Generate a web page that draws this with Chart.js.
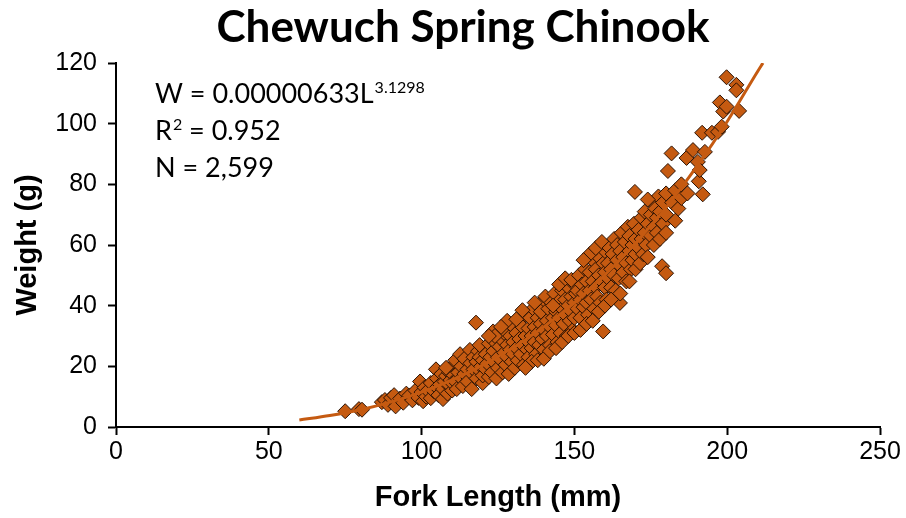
<!DOCTYPE html>
<html>
<head>
<meta charset="utf-8">
<title>Chewuch Spring Chinook</title>
<script src="https://cdn.jsdelivr.net/npm/chart.js@4.4.0/dist/chart.umd.min.js"></script>
<style>
  html, body { margin: 0; padding: 0; background: #fff; }
  #wrap { width: 906px; height: 518px; position: relative; }
</style>
</head>
<body>
<div id="wrap"><canvas id="chart-scatter"></canvas></div>
<script>
// axis ticks
const lengthTicks = [0, 50, 100, 150, 200, 250];
const weightTicks = [0, 20, 40, 60, 80, 100, 120];

// fork length (mm), weight (g), grouped by length
const fishSample = [
  [75, 5.2], [79.5, 5.9], [80.5, 5.7],
  [87, 8.2], [88, 8.9], [89, 7.3], [90, 9.6], [91, 10.5], [91.5, 6.8], [93, 9.4], [94, 8], [95, 11], [96, 10.4],
  [97, 8.8], [98, 12], [99, 9.6], [99.5, 15], [100, 11.5], [100.5, 8.5],
  [101, 13], [101.5, 10], [102, 12], [103, 14.5], [103, 9.5], [104, 11.8], [104.7, 19], [105, 16], [105, 13],
  [105.5, 10.5], [106, 14], [106.5, 17.5], [107, 9.2], [107, 12.5], [107.5, 15], [108, 16.8], [108.5, 11],
  [109, 13.8], [109, 18], [109.5, 15.5], [110, 12], [110, 20], [110.5, 17], [110, 14.5], [108, 19.5],
  [111, 15], [111, 22], [111.5, 12.5], [112, 18], [112.6, 24], [113, 16], [113, 20], [113.5, 13.5], [114, 17.5],
  [114, 22.5], [115, 19], [115, 15], [115.8, 25.4], [116, 21], [116.4, 12.5], [116.5, 17.5], [117, 23], [117, 19],
  [117.8, 34.4], [118, 16], [118, 21.5], [118.5, 25], [119, 18.5], [119, 23], [119.5, 20], [120, 14.5], [120, 17],
  [120, 22], [120, 26], [119, 27],
  [121, 19], [121, 24], [121.5, 21], [122, 16.5], [122, 27.5], [122.5, 23], [123, 18], [123.4, 31.5], [123.5, 25],
  [124, 21], [124, 28], [124.5, 16], [125, 23], [125, 19.5], [125.5, 26.5], [126, 29], [126, 22], [126.5, 18],
  [127, 24.5], [127, 31], [127.5, 20.5], [128, 27], [128, 23], [128.5, 17.5], [129, 25.5], [129, 30], [129.5, 21.5],
  [130, 28], [130, 24], [130, 33], [130.5, 19.5], [128, 35], [126, 33], [124, 30], [122, 30],
  [131, 26], [131, 31], [131.5, 22], [132, 29], [132, 35], [132.5, 24], [133, 27], [133, 33], [133.5, 20.5],
  [134, 30], [134, 37], [134.5, 25.5], [135, 28], [135, 32.5], [135, 23], [135.5, 36], [136, 30], [136, 26],
  [136.5, 39], [137, 33], [137, 28], [137.5, 24], [138, 31], [138, 36], [138.5, 27], [139, 34], [139, 41],
  [139.5, 29], [140, 32], [140, 37], [140, 25.5], [140.5, 43], [136, 21.5], [138, 22], [140, 22.5], [133, 38.5],
  [137, 41], [139, 38], [131, 35.5], [134, 19.5],
  [141, 30], [141, 35], [141.5, 39], [142, 27], [142, 33], [142.5, 41], [143, 36], [143, 30.5], [143.5, 44],
  [144, 33.5], [144, 38], [144.5, 28], [145, 36], [145, 41.5], [145.5, 31], [146, 39], [146, 45], [146.5, 34],
  [147, 37], [147, 42], [147.5, 30], [148, 40], [148, 46], [148.5, 35], [149, 43], [149, 38], [149.5, 32],
  [150, 41], [150, 47], [150, 36], [150.5, 44], [142, 25], [144, 26], [146, 28], [148, 30], [150, 31],
  [145, 47], [143, 40], [147, 49], [149, 48.5],
  [151, 39], [151, 45], [151.5, 50], [152, 42], [152, 36], [152.5, 47], [153, 44], [153, 39.5], [153.5, 52],
  [154, 41], [154, 48], [154.5, 37], [155, 45], [155, 51], [155.5, 42], [156, 48], [156, 55], [156.5, 39],
  [157, 46], [157, 52], [157.5, 43], [158, 50], [158, 56], [158.5, 41], [159, 48], [159.4, 31.5], [159.5, 54],
  [160, 46], [160, 51], [160, 58], [160.5, 42], [152, 32], [154, 34], [156, 35], [158, 38], [160, 40],
  [155, 57], [157, 59], [153, 55], [159, 61],
  [161, 49], [161, 54], [161.5, 59], [162, 46], [162, 52], [162.5, 57], [163, 50], [163, 62], [163.5, 45],
  [164, 55], [164, 60], [164.5, 49], [164.9, 40.9], [165, 53], [165, 58], [165.5, 64], [166, 51], [166, 56],
  [166.5, 61], [167, 48], [167, 54], [167.5, 66], [168, 58], [168, 63], [168.5, 52], [169, 60], [169, 55],
  [169.5, 67], [169.8, 77.5], [170, 57], [170, 62], [170, 52], [162, 42], [165, 44], [168, 48],
  [171, 59], [171, 65], [171.5, 54], [172, 62], [172, 69], [172.5, 57], [173, 64], [173, 71], [173.5, 60],
  [174, 67], [174, 56], [175, 63], [175, 70], [175.5, 74], [176, 60], [176, 66], [176.5, 72], [177, 64],
  [177, 69], [177.5, 76], [178, 62], [178, 71], [178.7, 53], [179, 67], [179, 74], [180, 50.7], [180, 70],
  [180, 77], [180, 64], [174, 75],
  [180.6, 84.4], [181.8, 90.2], [182, 74], [183, 68], [183, 78], [184, 72], [185, 75.5], [185, 80],
  [186.7, 88.7], [187, 77], [188.8, 91.3], [190.4, 87.4], [190.7, 81], [191, 84.7], [191.8, 97], [192, 76.7],
  [192.7, 90.7], [195, 97], [197, 97.3], [197.6, 107], [198.2, 99], [198.7, 104], [199.8, 105.6],
  [199.8, 115.3], [203, 112.8], [203, 111], [203.9, 104.2]
];

// power trendline
const trendLength = [60, 70, 80, 90, 100, 110, 120, 130, 140, 150, 160, 170, 180, 190, 200, 210, 211.7];
const trendWeight = [2.3, 3.8, 5.7, 8.3, 11.5, 15.5, 20.4, 26.2, 33, 40.9, 50.1, 60.6, 72.4, 85.8, 100.7, 117.3, 120];

const orange = '#c55a11';

// title and equation box (drawn by hand so the title can sit off-centre like the original)
const fitLabel = {
  id: 'fitLabel',
  afterDraw(chart) {
    const ctx = chart.ctx;
    ctx.save();
    ctx.fillStyle = '#000';
    ctx.textBaseline = 'alphabetic';

    ctx.textAlign = 'center';
    ctx.font = 'bold 44px Lato';
    ctx.fillText('Chewuch Spring Chinook', 463, 42);

    ctx.textAlign = 'left';
    const x = 155;
    ctx.font = '27px Lato';
    ctx.fillText('W = 0.00000633L', x, 103);
    let w = ctx.measureText('W = 0.00000633L').width;
    ctx.font = '16px Lato';
    ctx.fillText('3.1298', x + w + 1, 93);

    ctx.font = '27px Lato';
    ctx.fillText('R', x, 140);
    w = ctx.measureText('R').width;
    ctx.font = '16px Lato';
    ctx.fillText('2', x + w + 1, 130);
    const w2 = ctx.measureText('2').width;
    ctx.font = '27px Lato';
    ctx.fillText(' = 0.952', x + w + w2 + 1, 140);

    ctx.fillText('N = 2,599', x, 177);
    ctx.restore();
  }
};

var ctx = document.getElementById('chart-scatter').getContext('2d');

new Chart(ctx, {
  data: {
    datasets: [{
      type: 'line',
      label: 'Trend',
      data: trendLength.map((l, i) => ({ x: l, y: trendWeight[i] })),
      borderColor: orange,
      borderWidth: 3,
      pointRadius: 0,
      cubicInterpolationMode: 'monotone',
      fill: false,
      order: 0
    }, {
      type: 'scatter',
      label: 'Fish',
      data: fishSample.map(p => ({ x: p[0], y: p[1] })),
      pointStyle: 'rectRot',
      pointRadius: 7.5,
      backgroundColor: orange,
      borderColor: '#2a1204',
      borderWidth: 1,
      order: 1
    }]
  },
  options: {
    responsive: true,
    maintainAspectRatio: false,
    animation: false,
    layout: { padding: { left: 0, right: 26, top: 63, bottom: 0 } },
    plugins: {
      legend: { display: false },
      tooltip: { enabled: false },
      title: { display: false }
    },
    scales: {
      x: {
        type: 'linear',
        min: 0,
        max: 250,
        afterBuildTicks: s => { s.ticks = lengthTicks.map(v => ({ value: v })); },
        afterFit: s => { s.height = 91; },
        border: { display: true, color: '#000', width: 2 },
        grid: { display: true, drawOnChartArea: false, drawTicks: true, tickLength: 8, tickColor: '#000', tickWidth: 2 },
        ticks: {
          color: '#000',
          padding: 2,
          maxRotation: 0,
          font: { family: 'Liberation Sans', size: 25 }
        },
        title: {
          display: true,
          text: 'Fork Length (mm)',
          color: '#000',
          font: { family: 'Liberation Sans', size: 29, weight: 'bold' },
          padding: { top: 0, bottom: 3 }
        }
      },
      y: {
        type: 'linear',
        min: 0,
        max: 120,
        afterBuildTicks: s => { s.ticks = weightTicks.map(v => ({ value: v })); },
        afterFit: s => { s.width = 116; },
        border: { display: true, color: '#000', width: 2 },
        grid: { display: true, drawOnChartArea: false, drawTicks: true, tickLength: 8, tickColor: '#000', tickWidth: 2 },
        ticks: {
          color: '#000',
          padding: 11,
          font: { family: 'Liberation Sans', size: 25 }
        },
        title: {
          display: true,
          text: 'Weight (g)',
          color: '#000',
          font: { family: 'Liberation Sans', size: 29, weight: 'bold' },
          padding: { top: 11, bottom: 0 }
        }
      }
    }
  },
  plugins: [fitLabel]
});
</script>
</body>
</html>
